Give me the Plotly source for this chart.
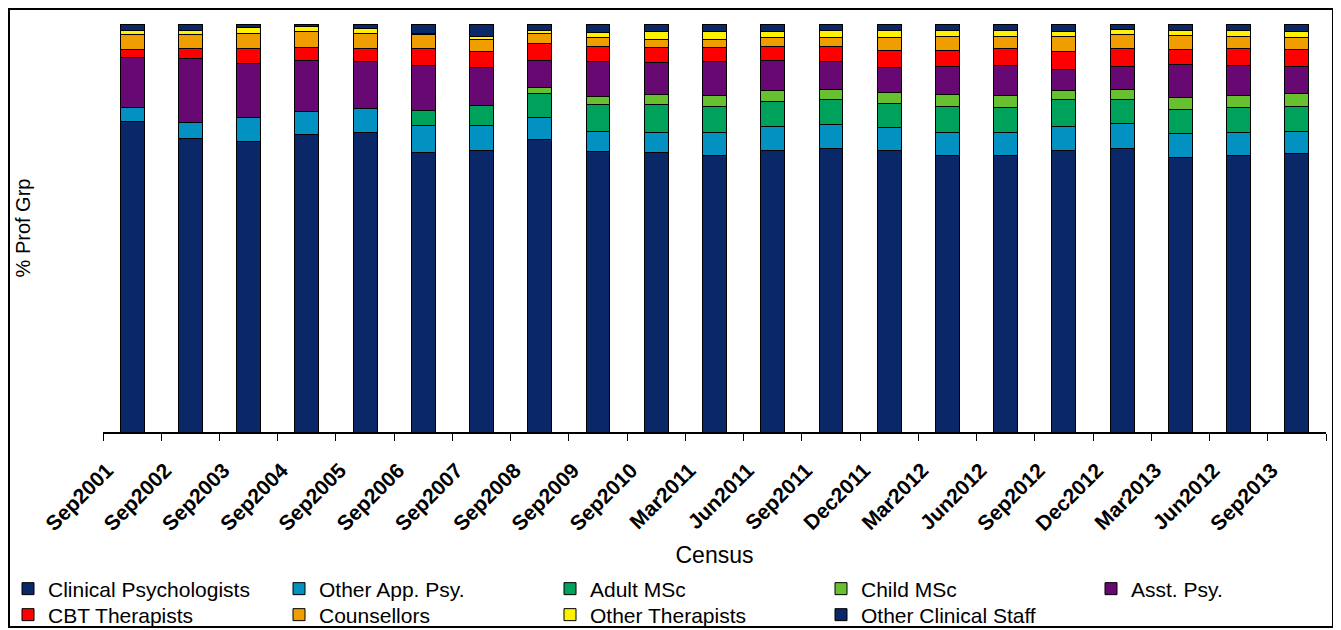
import plotly.graph_objects as go

categories = ["Sep2001", "Sep2002", "Sep2003", "Sep2004", "Sep2005", "Sep2006", "Sep2007",
              "Sep2008", "Sep2009", "Sep2010", "Mar2011", "Jun2011", "Sep2011", "Dec2011",
              "Mar2012", "Jun2012", "Sep2012", "Dec2012", "Mar2013", "Jun2012", "Sep2013"]

clinical_psychologists = [76.2, 71.8, 71.2, 73.0, 73.4, 68.5, 68.9, 71.8, 68.7, 68.5, 67.7,
                          68.9, 69.5, 69.1, 67.7, 67.7, 68.9, 69.4, 67.4, 67.7, 68.2]
other_app_psy = [3.4, 4.1, 5.9, 5.5, 5.8, 6.7, 6.2, 5.2, 4.9, 4.9, 5.6,
                 5.9, 5.9, 5.6, 5.6, 5.6, 6.0, 6.3, 5.8, 5.6, 5.5]
adult_msc = [0, 0, 0, 0, 0, 3.5, 4.9, 6.0, 6.7, 6.9, 6.6,
             6.2, 6.0, 5.8, 6.6, 6.2, 6.5, 5.7, 5.8, 6.2, 6.1]
child_msc = [0, 0, 0, 0, 0, 0, 0, 1.4, 1.9, 2.5, 2.5,
             2.6, 2.5, 2.7, 2.9, 2.9, 2.2, 2.6, 3.0, 2.9, 3.1]
asst_psy = [12.2, 15.5, 13.3, 12.5, 11.5, 11.2, 9.3, 6.6, 8.5, 7.8, 8.5,
            7.4, 6.9, 6.1, 6.7, 7.5, 5.3, 5.6, 8.0, 7.5, 6.7]
cbt_therapists = [2.0, 2.6, 3.7, 3.3, 3.3, 4.1, 3.9, 4.1, 3.7, 3.7, 3.4,
                  3.4, 3.7, 4.2, 4.1, 4.1, 4.3, 4.5, 3.8, 4.1, 4.1]
counsellors = [3.7, 3.4, 3.7, 3.8, 3.7, 3.4, 3.1, 2.6, 2.3, 1.9, 1.9,
               2.3, 2.3, 3.3, 3.3, 2.9, 3.7, 3.3, 3.3, 2.9, 3.0]
other_therapists = [1.0, 1.0, 1.5, 1.4, 1.1, 0.2, 0.6, 0.8, 1.1, 1.9, 1.9,
                    1.5, 1.5, 1.6, 1.6, 1.5, 1.2, 1.2, 1.2, 1.5, 1.5]
other_clinical_staff = [1.5, 1.5, 0.8, 0.5, 1.2, 2.4, 3.1, 1.5, 2.2, 1.9, 1.9,
                        1.8, 1.7, 1.6, 1.5, 1.6, 1.9, 1.4, 1.7, 1.6, 1.8]

series = [
    ("Clinical Psychologists", clinical_psychologists, "#0A2868", "legend"),
    ("Other App. Psy.", other_app_psy, "#0391C1", "legend"),
    ("Adult MSc", adult_msc, "#00A15B", "legend"),
    ("Child MSc", child_msc, "#66C02F", "legend"),
    ("Asst. Psy.", asst_psy, "#680873", "legend3"),
    ("CBT Therapists", cbt_therapists, "#FF0000", "legend2"),
    ("Counsellors", counsellors, "#F09D00", "legend2"),
    ("Other Therapists", other_therapists, "#FFF200", "legend2"),
    ("Other Clinical Staff", other_clinical_staff, "#0A2868", "legend2"),
]

positions = list(range(len(categories)))

fig = go.Figure()
for name, vals, col, leg in series:
    fig.add_trace(go.Bar(
        x=positions, y=vals, name=name, width=0.41, legend=leg,
        marker=dict(color=col, line=dict(color="black", width=1)),
    ))

# the page body adds an 8px offset, so the figure is laid out 8px smaller
W, H = 1333, 622
L, R, T, B = 95, 15, 16, 198
pw = W - L - R
ph = H - T - B

def px_x(p):
    return (p - L) / pw

def px_y(p):
    return (H - B - p) / ph

legend_common = dict(
    orientation="h", xref="container", yref="container",
    xanchor="left", yanchor="middle",
    entrywidth=226, entrywidthmode="pixels",
    font=dict(size=21, color="black"), traceorder="normal",
    itemwidth=30, bgcolor="rgba(0,0,0,0)", borderwidth=0,
)

fig.update_layout(
    width=W, height=H,
    barmode="stack", barnorm="percent",
    margin=dict(l=L, r=R, t=T, b=B, autoexpand=False),
    paper_bgcolor="white", plot_bgcolor="white",
    font=dict(family="Liberation Sans, Arial, sans-serif", color="black"),
    xaxis=dict(
        range=[-0.5, len(categories) - 0.5],
        tickmode="array", tickvals=positions, ticktext=categories,
        tickangle=-45, ticks="", showgrid=False, automargin=False,
        tickfont=dict(size=21, weight="bold", color="black"),
        ticklabelshift=-25, ticklabelstandoff=16,
        showline=True, linecolor="black", linewidth=1.5,
        minor=dict(tickmode="array", tickvals=[i - 0.5 for i in range(len(categories) + 1)],
                   ticks="outside", ticklen=7, tickcolor="black", tickwidth=1, showgrid=False),
        title=dict(text="Census", font=dict(size=23), standoff=37),
        zeroline=False,
    ),
    yaxis=dict(
        range=[0, 100], showticklabels=False, ticks="", showgrid=False,
        showline=False, zeroline=False, automargin=False,
        title=dict(text="% Prof Grp", font=dict(size=20), standoff=66),
    ),
    legend=dict(x=0, y=1 - 581 / H, **legend_common),
    legend3=dict(x=1083 / W, y=1 - 581 / H, **legend_common),
    legend2=dict(x=0, y=1 - 607 / H, **legend_common),
    showlegend=True,
)

fig.add_shape(type="rect", xref="paper", yref="paper",
              x0=px_x(1), x1=px_x(1325), y0=px_y(619), y1=px_y(1),
              line=dict(color="black", width=2), fillcolor="rgba(0,0,0,0)", layer="below")

fig.write_html("out.html")
